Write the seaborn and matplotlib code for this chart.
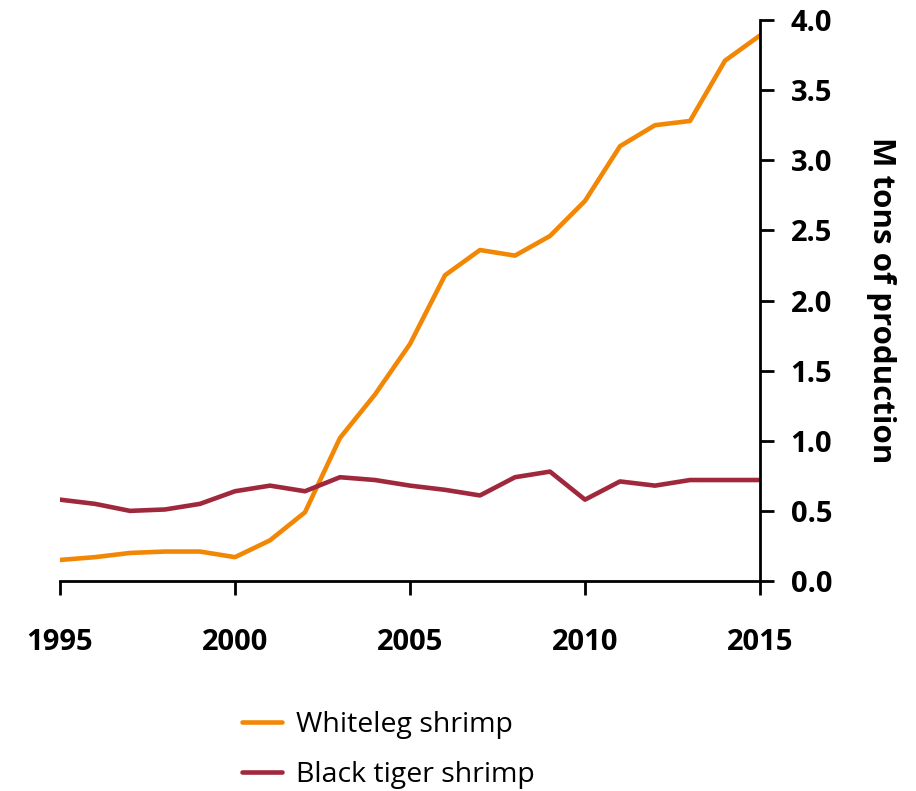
import matplotlib
matplotlib.use("Agg")
import matplotlib.pyplot as plt
import seaborn as sns
import pandas as pd

years = list(range(1995, 2016))
whiteleg = [0.15, 0.17, 0.20, 0.21, 0.21, 0.17, 0.29, 0.49, 1.02, 1.33, 1.69,
            2.18, 2.36, 2.32, 2.46, 2.71, 3.10, 3.25, 3.28, 3.71, 3.89]
black_tiger = [0.58, 0.55, 0.50, 0.51, 0.55, 0.64, 0.68, 0.64, 0.74, 0.72, 0.68,
               0.65, 0.61, 0.74, 0.78, 0.58, 0.71, 0.68, 0.72, 0.72, 0.72]
series_names = ["Whiteleg shrimp", "Black tiger shrimp"]
colors = ["#F28705", "#A0283C"]
x_ticks = [1995, 2000, 2005, 2010, 2015]
y_ticks = [0.0, 0.5, 1.0, 1.5, 2.0, 2.5, 3.0, 3.5, 4.0]
y_label = "M tons of production"

df = pd.DataFrame({
    "year": years * 2,
    "value": whiteleg + black_tiger,
    "series": [series_names[0]] * len(years) + [series_names[1]] * len(years),
})

sns.set_theme(style="white")
plt.rcParams["font.family"] = ["Open Sans", "DejaVu Sans"]
plt.rcParams["text.color"] = "black"
plt.rcParams["xtick.color"] = "black"
plt.rcParams["ytick.color"] = "black"
plt.rcParams["axes.labelcolor"] = "black"

fig = plt.figure(figsize=(9.16, 7.91), dpi=100)
ax = fig.add_axes([60 / 916, 1 - 581 / 791, 700 / 916, 561 / 791])

sns.lineplot(data=df, x="year", y="value", hue="series", hue_order=series_names,
             palette=colors, linewidth=3.3, ax=ax, legend=True)

ax.set_xlim(1995, 2015)
ax.set_ylim(0, 4.0)
ax.set_xticks(x_ticks)
ax.set_xticklabels([str(v) for v in x_ticks], fontsize=21, fontweight="bold",
                   color="black")
ax.yaxis.tick_right()
ax.yaxis.set_label_position("right")
ax.set_yticks(y_ticks)
ax.set_yticklabels([f"{v:.1f}" for v in y_ticks], fontsize=21, fontweight="bold",
                   color="black")
ax.set_xlabel("")
ax.set_ylabel(y_label, fontsize=22.5, fontweight="bold", rotation=270,
              labelpad=24, va="bottom", color="black")

for s in ["top", "left"]:
    ax.spines[s].set_visible(False)
for s in ["right", "bottom"]:
    ax.spines[s].set_visible(True)
    ax.spines[s].set_color("black")
    ax.spines[s].set_linewidth(2)

ax.tick_params(axis="x", direction="out", length=10, width=2, color="black",
               pad=24, bottom=True)
ax.tick_params(axis="y", direction="out", length=10, width=2, color="black",
               pad=12, right=True, left=False)
ax.grid(False)

handles, labels = ax.get_legend_handles_labels()
leg = ax.legend(handles, labels, loc="center left",
                bbox_to_anchor=(242 / 916, (791 - 750) / 791),
                bbox_transform=fig.transFigure, frameon=False,
                fontsize=20.5, handlelength=1.4, handletextpad=0.5,
                labelspacing=0.8, borderpad=0, borderaxespad=0)
for t in leg.get_texts():
    t.set_color("black")

fig.savefig("out.png", dpi=100)
